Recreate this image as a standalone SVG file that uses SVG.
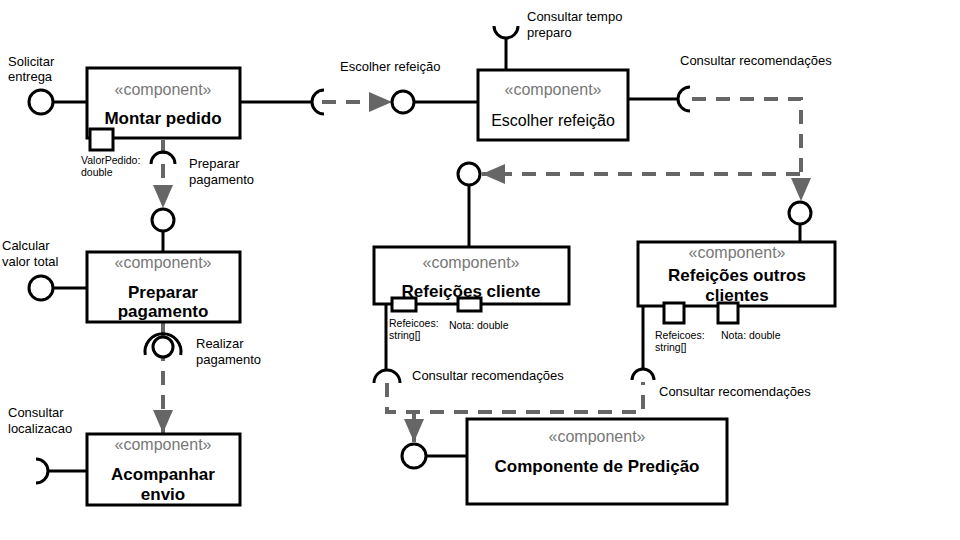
<svg xmlns="http://www.w3.org/2000/svg" width="960" height="540" viewBox="0 0 960 540">
<style>
.box{fill:#fff;stroke:#000;stroke-width:3}
.port{fill:#fff;stroke:#000;stroke-width:3}
.ball{fill:#fff;stroke:#000;stroke-width:3}
.sock{fill:none;stroke:#000;stroke-width:3}
.wire{fill:none;stroke:#000;stroke-width:3}
.dep{fill:none;stroke:#666;stroke-width:4;stroke-dasharray:14 10}
.st{font-family:"Liberation Sans",Arial,sans-serif;font-size:16px;fill:#777;text-anchor:middle}
.nm{font-family:"Liberation Sans",Arial,sans-serif;font-size:17px;font-weight:bold;fill:#000;text-anchor:middle}
.nr{font-family:"Liberation Sans",Arial,sans-serif;font-size:16px;fill:#000;text-anchor:middle}
.lb{font-family:"Liberation Sans",Arial,sans-serif;font-size:13px;fill:#000}
.sm{font-family:"Liberation Sans",Arial,sans-serif;font-size:10.5px;fill:#000}
</style>
<defs>
<marker id="arr" markerUnits="userSpaceOnUse" markerWidth="24" markerHeight="20" refX="23" refY="10" orient="auto">
<path d="M0,0 L23,10 L0,20 Z" fill="#666"/>
</marker>
</defs>
<rect width="960" height="540" fill="#fff"/>

<g id="connectors">
<line class="wire" x1="240" y1="102" x2="312" y2="102"/>
<path class="sock" d="M324 90 A12 12 0 0 0 324 114"/>
<path class="dep" d="M322 102 H392" marker-end="url(#arr)"/>
<line class="wire" x1="414" y1="102" x2="478" y2="102"/>
<line class="wire" x1="620" y1="99" x2="678" y2="99"/>
<path class="sock" d="M690 87 A12 12 0 0 0 690 111"/>
<path class="dep" d="M692 99 H801 V201" marker-end="url(#arr)"/>
<path class="dep" d="M800 174 H482" marker-end="url(#arr)"/>
<line class="wire" x1="506" y1="70" x2="506" y2="38"/>
<path class="sock" d="M494 26 A12 12 0 0 0 518 26"/>
<path class="dep" d="M163 140 V208" marker-end="url(#arr)"/>
<path class="sock" d="M151 164 A12 12 0 0 1 175 164"/>
<line class="wire" x1="163" y1="231" x2="163" y2="252"/>
<path class="dep" d="M163 323 V433" marker-end="url(#arr)"/>
<circle class="ball" cx="163" cy="347" r="10"/>
<path class="sock" d="M145.3 355 A18 18 0 1 1 180.7 355"/>
<line class="wire" x1="469" y1="185" x2="469" y2="247"/>
<line class="wire" x1="800" y1="224" x2="800" y2="242"/>
<line class="wire" x1="386" y1="304" x2="386" y2="370"/>
<path class="sock" d="M374 383 A13 13 0 0 1 400 383"/>
<line class="wire" x1="643" y1="306" x2="643" y2="369"/>
<path class="sock" d="M632 380 A11 11 0 0 1 654 380"/>
<path class="dep" d="M387 383 V412 H643 V382"/>
<path class="dep" d="M414 412 V442" marker-end="url(#arr)"/>
<line class="wire" x1="426" y1="456" x2="467" y2="456"/>
<line class="wire" x1="53" y1="102" x2="87" y2="102"/>
<line class="wire" x1="53" y1="288" x2="87" y2="288"/>
<line class="wire" x1="48" y1="471" x2="87" y2="471"/>
<path class="sock" d="M36 459 A12 12 0 0 1 36 483"/>
</g>

<g id="iface-solicitar">
<circle class="ball" cx="41" cy="102" r="12"/>
<text class="lb" x="8" y="66">Solicitar</text>
<text class="lb" x="8" y="81">entrega</text>
</g>
<g id="iface-calcular">
<circle class="ball" cx="41" cy="288" r="12"/>
<text class="lb" x="2" y="250">Calcular</text>
<text class="lb" x="2" y="266">valor total</text>
</g>
<g id="iface-localizacao">
<text class="lb" x="8" y="417">Consultar</text>
<text class="lb" x="8" y="433">localizacao</text>
</g>
<g id="iface-escolher">
<circle class="ball" cx="403" cy="102" r="11"/>
<text class="lb" x="340" y="71">Escolher refeição</text>
</g>
<g id="iface-tempo">
<text class="lb" x="527" y="21">Consultar tempo</text>
<text class="lb" x="527" y="37">preparo</text>
</g>
<g id="iface-recom-top">
<text class="lb" x="680" y="65">Consultar recomendações</text>
</g>
<g id="iface-preparar">
<circle class="ball" cx="163" cy="220" r="11"/>
<text class="lb" x="189" y="168">Preparar</text>
<text class="lb" x="189" y="184">pagamento</text>
</g>
<g id="iface-realizar">
<text class="lb" x="196" y="348">Realizar</text>
<text class="lb" x="196" y="364">pagamento</text>
</g>
<g id="iface-cliente">
<circle class="ball" cx="469" cy="174" r="11"/>
</g>
<g id="iface-outros">
<circle class="ball" cx="800" cy="213" r="11"/>
</g>
<g id="iface-predicao">
<circle class="ball" cx="414" cy="456" r="12"/>
<text class="lb" x="412" y="380">Consultar recomendações</text>
<text class="lb" x="659" y="396">Consultar recomendações</text>
</g>

<g id="node-montar">
<rect class="box" x="87" y="68" width="153" height="70"/>
<rect class="port" x="90" y="129" width="23" height="21"/>
<text class="st" x="163" y="95">«component»</text>
<text class="nm" x="163" y="124">Montar pedido</text>
<text class="sm" x="81" y="164">ValorPedido:</text>
<text class="sm" x="81" y="176">double</text>
</g>

<g id="node-escolher">
<rect class="box" x="478" y="70" width="150" height="70"/>
<text class="st" x="553" y="95">«component»</text>
<text class="nr" x="553" y="126">Escolher refeição</text>
</g>

<g id="node-preparar">
<rect class="box" x="87" y="252" width="153" height="70"/>
<text class="st" x="163" y="268">«component»</text>
<text class="nm" x="163" y="298">Preparar</text>
<text class="nm" x="163" y="317">pagamento</text>
</g>

<g id="node-acompanhar">
<rect class="box" x="87" y="434" width="153" height="71"/>
<text class="st" x="163" y="450">«component»</text>
<text class="nm" x="163" y="480">Acompanhar</text>
<text class="nm" x="163" y="500">envio</text>
</g>

<g id="node-cliente">
<rect class="box" x="374" y="247" width="195" height="57"/>
<rect class="port" x="392" y="298" width="24" height="13"/>
<rect class="port" x="458" y="298" width="23" height="13"/>
<text class="st" x="471" y="268">«component»</text>
<text class="nm" x="471" y="297">Refeições cliente</text>
<text class="sm" x="389" y="327">Refeicoes:</text>
<text class="sm" x="389" y="339">string[]</text>
<text class="sm" x="449" y="329">Nota: double</text>
</g>

<g id="node-outros">
<rect class="box" x="638" y="242" width="197" height="64"/>
<rect class="port" x="664" y="303" width="20" height="20"/>
<rect class="port" x="718" y="303" width="20" height="20"/>
<text class="st" x="737" y="258">«component»</text>
<text class="nm" x="737" y="281">Refeições outros</text>
<text class="nm" x="737" y="301">clientes</text>
<text class="sm" x="655" y="339">Refeicoes:</text>
<text class="sm" x="655" y="351">string[]</text>
<text class="sm" x="721" y="339">Nota: double</text>
</g>

<g id="node-predicao">
<rect class="box" x="467" y="419" width="260" height="85"/>
<text class="st" x="597" y="442">«component»</text>
<text class="nm" x="597" y="472">Componente de Predição</text>
</g>
</svg>
